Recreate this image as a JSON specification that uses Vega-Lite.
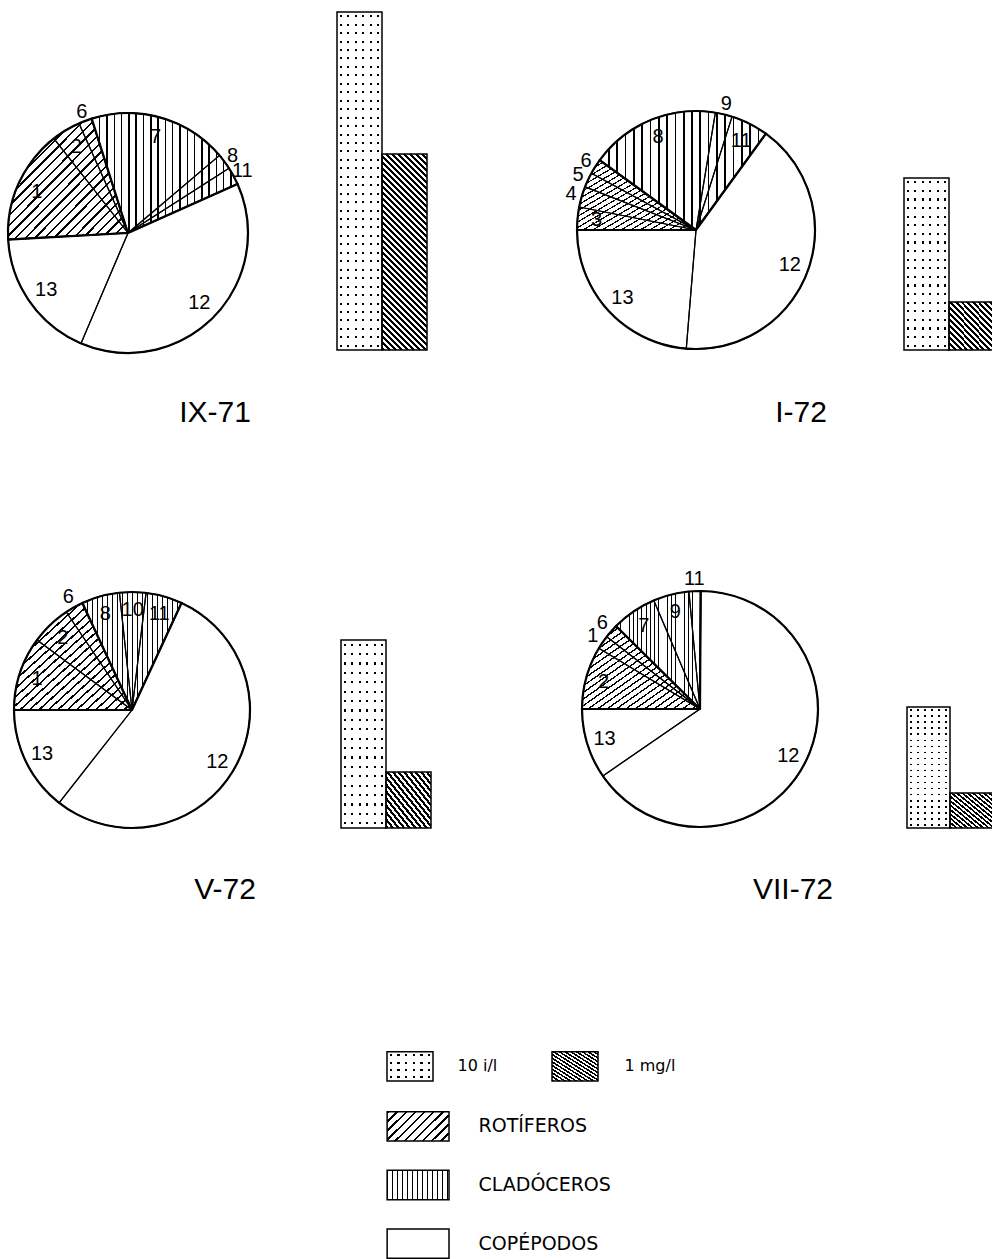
{
"$schema": "https://vega.github.io/schema/vega-lite/v6.json",
"background": "white",
"padding": 0,
"config": {"view": {"stroke": null}, "font": "Liberation Sans", "title": {"font": "Liberation Sans", "fontSize": 30, "fontWeight": "normal", "color": "black"}},
"params": [
{"name": "rotG", "value": {"gradient": "linear", "x1": 0, "y1": 0, "x2": 1, "y2": 1, "stops": [
{"offset":0,"color":"#000"},{"offset":0.01,"color":"#000"},{"offset":0.01,"color":"#fff"},{"offset":0.04,"color":"#fff"},
{"offset":0.04,"color":"#000"},{"offset":0.05,"color":"#000"},{"offset":0.05,"color":"#fff"},{"offset":0.08,"color":"#fff"},
{"offset":0.08,"color":"#000"},{"offset":0.09,"color":"#000"},{"offset":0.09,"color":"#fff"},{"offset":0.12,"color":"#fff"},
{"offset":0.12,"color":"#000"},{"offset":0.13,"color":"#000"},{"offset":0.13,"color":"#fff"},{"offset":0.16,"color":"#fff"},
{"offset":0.16,"color":"#000"},{"offset":0.17,"color":"#000"},{"offset":0.17,"color":"#fff"},{"offset":0.2,"color":"#fff"},
{"offset":0.2,"color":"#000"},{"offset":0.21,"color":"#000"},{"offset":0.21,"color":"#fff"},{"offset":0.24,"color":"#fff"},
{"offset":0.24,"color":"#000"},{"offset":0.25,"color":"#000"},{"offset":0.25,"color":"#fff"},{"offset":0.28,"color":"#fff"},
{"offset":0.28,"color":"#000"},{"offset":0.29,"color":"#000"},{"offset":0.29,"color":"#fff"},{"offset":0.32,"color":"#fff"},
{"offset":0.32,"color":"#000"},{"offset":0.33,"color":"#000"},{"offset":0.33,"color":"#fff"},{"offset":0.36,"color":"#fff"},
{"offset":0.36,"color":"#000"},{"offset":0.37,"color":"#000"},{"offset":0.37,"color":"#fff"},{"offset":0.4,"color":"#fff"},
{"offset":0.4,"color":"#000"},{"offset":0.41,"color":"#000"},{"offset":0.41,"color":"#fff"},{"offset":0.44,"color":"#fff"},
{"offset":0.44,"color":"#000"},{"offset":0.45,"color":"#000"},{"offset":0.45,"color":"#fff"},{"offset":0.48,"color":"#fff"},
{"offset":0.48,"color":"#000"},{"offset":0.49,"color":"#000"},{"offset":0.49,"color":"#fff"},{"offset":0.52,"color":"#fff"},
{"offset":0.52,"color":"#000"},{"offset":0.53,"color":"#000"},{"offset":0.53,"color":"#fff"},{"offset":0.56,"color":"#fff"},
{"offset":0.56,"color":"#000"},{"offset":0.57,"color":"#000"},{"offset":0.57,"color":"#fff"},{"offset":0.6,"color":"#fff"},
{"offset":0.6,"color":"#000"},{"offset":0.61,"color":"#000"},{"offset":0.61,"color":"#fff"},{"offset":0.64,"color":"#fff"},
{"offset":0.64,"color":"#000"},{"offset":0.65,"color":"#000"},{"offset":0.65,"color":"#fff"},{"offset":0.68,"color":"#fff"},
{"offset":0.68,"color":"#000"},{"offset":0.69,"color":"#000"},{"offset":0.69,"color":"#fff"},{"offset":0.72,"color":"#fff"},
{"offset":0.72,"color":"#000"},{"offset":0.73,"color":"#000"},{"offset":0.73,"color":"#fff"},{"offset":0.76,"color":"#fff"},
{"offset":0.76,"color":"#000"},{"offset":0.77,"color":"#000"},{"offset":0.77,"color":"#fff"},{"offset":0.8,"color":"#fff"},
{"offset":0.8,"color":"#000"},{"offset":0.81,"color":"#000"},{"offset":0.81,"color":"#fff"},{"offset":0.84,"color":"#fff"},
{"offset":0.84,"color":"#000"},{"offset":0.85,"color":"#000"},{"offset":0.85,"color":"#fff"},{"offset":0.88,"color":"#fff"},
{"offset":0.88,"color":"#000"},{"offset":0.89,"color":"#000"},{"offset":0.89,"color":"#fff"},{"offset":0.92,"color":"#fff"},
{"offset":0.92,"color":"#000"},{"offset":0.93,"color":"#000"},{"offset":0.93,"color":"#fff"},{"offset":0.96,"color":"#fff"},
{"offset":0.96,"color":"#000"},{"offset":0.97,"color":"#000"},{"offset":0.97,"color":"#fff"},{"offset":1,"color":"#fff"}]}},
{"name": "cladG", "value": {"gradient": "linear", "x1": 0, "y1": 0, "x2": 1, "y2": 0, "stops": [
{"offset":0,"color":"#000"},{"offset":0.01,"color":"#000"},{"offset":0.01,"color":"#fff"},{"offset":0.05,"color":"#fff"},
{"offset":0.05,"color":"#000"},{"offset":0.06,"color":"#000"},{"offset":0.06,"color":"#fff"},{"offset":0.1,"color":"#fff"},
{"offset":0.1,"color":"#000"},{"offset":0.11,"color":"#000"},{"offset":0.11,"color":"#fff"},{"offset":0.15,"color":"#fff"},
{"offset":0.15,"color":"#000"},{"offset":0.16,"color":"#000"},{"offset":0.16,"color":"#fff"},{"offset":0.2,"color":"#fff"},
{"offset":0.2,"color":"#000"},{"offset":0.21,"color":"#000"},{"offset":0.21,"color":"#fff"},{"offset":0.25,"color":"#fff"},
{"offset":0.25,"color":"#000"},{"offset":0.26,"color":"#000"},{"offset":0.26,"color":"#fff"},{"offset":0.3,"color":"#fff"},
{"offset":0.3,"color":"#000"},{"offset":0.31,"color":"#000"},{"offset":0.31,"color":"#fff"},{"offset":0.35,"color":"#fff"},
{"offset":0.35,"color":"#000"},{"offset":0.36,"color":"#000"},{"offset":0.36,"color":"#fff"},{"offset":0.4,"color":"#fff"},
{"offset":0.4,"color":"#000"},{"offset":0.41,"color":"#000"},{"offset":0.41,"color":"#fff"},{"offset":0.45,"color":"#fff"},
{"offset":0.45,"color":"#000"},{"offset":0.46,"color":"#000"},{"offset":0.46,"color":"#fff"},{"offset":0.5,"color":"#fff"},
{"offset":0.5,"color":"#000"},{"offset":0.51,"color":"#000"},{"offset":0.51,"color":"#fff"},{"offset":0.55,"color":"#fff"},
{"offset":0.55,"color":"#000"},{"offset":0.56,"color":"#000"},{"offset":0.56,"color":"#fff"},{"offset":0.6,"color":"#fff"},
{"offset":0.6,"color":"#000"},{"offset":0.61,"color":"#000"},{"offset":0.61,"color":"#fff"},{"offset":0.65,"color":"#fff"},
{"offset":0.65,"color":"#000"},{"offset":0.66,"color":"#000"},{"offset":0.66,"color":"#fff"},{"offset":0.7,"color":"#fff"},
{"offset":0.7,"color":"#000"},{"offset":0.71,"color":"#000"},{"offset":0.71,"color":"#fff"},{"offset":0.75,"color":"#fff"},
{"offset":0.75,"color":"#000"},{"offset":0.76,"color":"#000"},{"offset":0.76,"color":"#fff"},{"offset":0.8,"color":"#fff"},
{"offset":0.8,"color":"#000"},{"offset":0.81,"color":"#000"},{"offset":0.81,"color":"#fff"},{"offset":0.85,"color":"#fff"},
{"offset":0.85,"color":"#000"},{"offset":0.86,"color":"#000"},{"offset":0.86,"color":"#fff"},{"offset":0.9,"color":"#fff"},
{"offset":0.9,"color":"#000"},{"offset":0.91,"color":"#000"},{"offset":0.91,"color":"#fff"},{"offset":0.95,"color":"#fff"},
{"offset":0.95,"color":"#000"},{"offset":0.96,"color":"#000"},{"offset":0.96,"color":"#fff"},{"offset":1,"color":"#fff"}]}},
{"name": "hatchTallG", "value": {"gradient": "linear", "x1": 0, "y1": 1, "x2": 0.2686, "y2": -0.168, "stops": [
{"offset":0,"color":"#000"},{"offset":0.0125,"color":"#000"},{"offset":0.0125,"color":"#fff"},{"offset":0.025,"color":"#fff"},
{"offset":0.025,"color":"#000"},{"offset":0.0375,"color":"#000"},{"offset":0.0375,"color":"#fff"},{"offset":0.05,"color":"#fff"},
{"offset":0.05,"color":"#000"},{"offset":0.0625,"color":"#000"},{"offset":0.0625,"color":"#fff"},{"offset":0.075,"color":"#fff"},
{"offset":0.075,"color":"#000"},{"offset":0.0875,"color":"#000"},{"offset":0.0875,"color":"#fff"},{"offset":0.1,"color":"#fff"},
{"offset":0.1,"color":"#000"},{"offset":0.1125,"color":"#000"},{"offset":0.1125,"color":"#fff"},{"offset":0.125,"color":"#fff"},
{"offset":0.125,"color":"#000"},{"offset":0.1375,"color":"#000"},{"offset":0.1375,"color":"#fff"},{"offset":0.15,"color":"#fff"},
{"offset":0.15,"color":"#000"},{"offset":0.1625,"color":"#000"},{"offset":0.1625,"color":"#fff"},{"offset":0.175,"color":"#fff"},
{"offset":0.175,"color":"#000"},{"offset":0.1875,"color":"#000"},{"offset":0.1875,"color":"#fff"},{"offset":0.2,"color":"#fff"},
{"offset":0.2,"color":"#000"},{"offset":0.2125,"color":"#000"},{"offset":0.2125,"color":"#fff"},{"offset":0.225,"color":"#fff"},
{"offset":0.225,"color":"#000"},{"offset":0.2375,"color":"#000"},{"offset":0.2375,"color":"#fff"},{"offset":0.25,"color":"#fff"},
{"offset":0.25,"color":"#000"},{"offset":0.2625,"color":"#000"},{"offset":0.2625,"color":"#fff"},{"offset":0.275,"color":"#fff"},
{"offset":0.275,"color":"#000"},{"offset":0.2875,"color":"#000"},{"offset":0.2875,"color":"#fff"},{"offset":0.3,"color":"#fff"},
{"offset":0.3,"color":"#000"},{"offset":0.3125,"color":"#000"},{"offset":0.3125,"color":"#fff"},{"offset":0.325,"color":"#fff"},
{"offset":0.325,"color":"#000"},{"offset":0.3375,"color":"#000"},{"offset":0.3375,"color":"#fff"},{"offset":0.35,"color":"#fff"},
{"offset":0.35,"color":"#000"},{"offset":0.3625,"color":"#000"},{"offset":0.3625,"color":"#fff"},{"offset":0.375,"color":"#fff"},
{"offset":0.375,"color":"#000"},{"offset":0.3875,"color":"#000"},{"offset":0.3875,"color":"#fff"},{"offset":0.4,"color":"#fff"},
{"offset":0.4,"color":"#000"},{"offset":0.4125,"color":"#000"},{"offset":0.4125,"color":"#fff"},{"offset":0.425,"color":"#fff"},
{"offset":0.425,"color":"#000"},{"offset":0.4375,"color":"#000"},{"offset":0.4375,"color":"#fff"},{"offset":0.45,"color":"#fff"},
{"offset":0.45,"color":"#000"},{"offset":0.4625,"color":"#000"},{"offset":0.4625,"color":"#fff"},{"offset":0.475,"color":"#fff"},
{"offset":0.475,"color":"#000"},{"offset":0.4875,"color":"#000"},{"offset":0.4875,"color":"#fff"},{"offset":0.5,"color":"#fff"},
{"offset":0.5,"color":"#000"},{"offset":0.5125,"color":"#000"},{"offset":0.5125,"color":"#fff"},{"offset":0.525,"color":"#fff"},
{"offset":0.525,"color":"#000"},{"offset":0.5375,"color":"#000"},{"offset":0.5375,"color":"#fff"},{"offset":0.55,"color":"#fff"},
{"offset":0.55,"color":"#000"},{"offset":0.5625,"color":"#000"},{"offset":0.5625,"color":"#fff"},{"offset":0.575,"color":"#fff"},
{"offset":0.575,"color":"#000"},{"offset":0.5875,"color":"#000"},{"offset":0.5875,"color":"#fff"},{"offset":0.6,"color":"#fff"},
{"offset":0.6,"color":"#000"},{"offset":0.6125,"color":"#000"},{"offset":0.6125,"color":"#fff"},{"offset":0.625,"color":"#fff"},
{"offset":0.625,"color":"#000"},{"offset":0.6375,"color":"#000"},{"offset":0.6375,"color":"#fff"},{"offset":0.65,"color":"#fff"},
{"offset":0.65,"color":"#000"},{"offset":0.6625,"color":"#000"},{"offset":0.6625,"color":"#fff"},{"offset":0.675,"color":"#fff"},
{"offset":0.675,"color":"#000"},{"offset":0.6875,"color":"#000"},{"offset":0.6875,"color":"#fff"},{"offset":0.7,"color":"#fff"},
{"offset":0.7,"color":"#000"},{"offset":0.7125,"color":"#000"},{"offset":0.7125,"color":"#fff"},{"offset":0.725,"color":"#fff"},
{"offset":0.725,"color":"#000"},{"offset":0.7375,"color":"#000"},{"offset":0.7375,"color":"#fff"},{"offset":0.75,"color":"#fff"},
{"offset":0.75,"color":"#000"},{"offset":0.7625,"color":"#000"},{"offset":0.7625,"color":"#fff"},{"offset":0.775,"color":"#fff"},
{"offset":0.775,"color":"#000"},{"offset":0.7875,"color":"#000"},{"offset":0.7875,"color":"#fff"},{"offset":0.8,"color":"#fff"},
{"offset":0.8,"color":"#000"},{"offset":0.8125,"color":"#000"},{"offset":0.8125,"color":"#fff"},{"offset":0.825,"color":"#fff"},
{"offset":0.825,"color":"#000"},{"offset":0.8375,"color":"#000"},{"offset":0.8375,"color":"#fff"},{"offset":0.85,"color":"#fff"},
{"offset":0.85,"color":"#000"},{"offset":0.8625,"color":"#000"},{"offset":0.8625,"color":"#fff"},{"offset":0.875,"color":"#fff"},
{"offset":0.875,"color":"#000"},{"offset":0.8875,"color":"#000"},{"offset":0.8875,"color":"#fff"},{"offset":0.9,"color":"#fff"},
{"offset":0.9,"color":"#000"},{"offset":0.9125,"color":"#000"},{"offset":0.9125,"color":"#fff"},{"offset":0.925,"color":"#fff"},
{"offset":0.925,"color":"#000"},{"offset":0.9375,"color":"#000"},{"offset":0.9375,"color":"#fff"},{"offset":0.95,"color":"#fff"},
{"offset":0.95,"color":"#000"},{"offset":0.9625,"color":"#000"},{"offset":0.9625,"color":"#fff"},{"offset":0.975,"color":"#fff"},
{"offset":0.975,"color":"#000"},{"offset":0.9875,"color":"#000"},{"offset":0.9875,"color":"#fff"},{"offset":1,"color":"#fff"}]}},
{"name": "hatchShortG", "value": {"gradient": "linear", "x1": 0, "y1": 1, "x2": 1, "y2": 0, "stops": [
{"offset":0,"color":"#000"},{"offset":0.03125,"color":"#000"},{"offset":0.03125,"color":"#fff"},{"offset":0.0625,"color":"#fff"},
{"offset":0.0625,"color":"#000"},{"offset":0.09375,"color":"#000"},{"offset":0.09375,"color":"#fff"},{"offset":0.125,"color":"#fff"},
{"offset":0.125,"color":"#000"},{"offset":0.15625,"color":"#000"},{"offset":0.15625,"color":"#fff"},{"offset":0.1875,"color":"#fff"},
{"offset":0.1875,"color":"#000"},{"offset":0.21875,"color":"#000"},{"offset":0.21875,"color":"#fff"},{"offset":0.25,"color":"#fff"},
{"offset":0.25,"color":"#000"},{"offset":0.28125,"color":"#000"},{"offset":0.28125,"color":"#fff"},{"offset":0.3125,"color":"#fff"},
{"offset":0.3125,"color":"#000"},{"offset":0.34375,"color":"#000"},{"offset":0.34375,"color":"#fff"},{"offset":0.375,"color":"#fff"},
{"offset":0.375,"color":"#000"},{"offset":0.40625,"color":"#000"},{"offset":0.40625,"color":"#fff"},{"offset":0.4375,"color":"#fff"},
{"offset":0.4375,"color":"#000"},{"offset":0.46875,"color":"#000"},{"offset":0.46875,"color":"#fff"},{"offset":0.5,"color":"#fff"},
{"offset":0.5,"color":"#000"},{"offset":0.53125,"color":"#000"},{"offset":0.53125,"color":"#fff"},{"offset":0.5625,"color":"#fff"},
{"offset":0.5625,"color":"#000"},{"offset":0.59375,"color":"#000"},{"offset":0.59375,"color":"#fff"},{"offset":0.625,"color":"#fff"},
{"offset":0.625,"color":"#000"},{"offset":0.65625,"color":"#000"},{"offset":0.65625,"color":"#fff"},{"offset":0.6875,"color":"#fff"},
{"offset":0.6875,"color":"#000"},{"offset":0.71875,"color":"#000"},{"offset":0.71875,"color":"#fff"},{"offset":0.75,"color":"#fff"},
{"offset":0.75,"color":"#000"},{"offset":0.78125,"color":"#000"},{"offset":0.78125,"color":"#fff"},{"offset":0.8125,"color":"#fff"},
{"offset":0.8125,"color":"#000"},{"offset":0.84375,"color":"#000"},{"offset":0.84375,"color":"#fff"},{"offset":0.875,"color":"#fff"},
{"offset":0.875,"color":"#000"},{"offset":0.90625,"color":"#000"},{"offset":0.90625,"color":"#fff"},{"offset":0.9375,"color":"#fff"},
{"offset":0.9375,"color":"#000"},{"offset":0.96875,"color":"#000"},{"offset":0.96875,"color":"#fff"},{"offset":1,"color":"#fff"}]}},
{"name": "rotLegG", "value": {"gradient": "linear", "x1": 0, "y1": 0, "x2": 1.2026, "y2": 0.582, "stops": [
{"offset":0,"color":"#000"},{"offset":0.025,"color":"#000"},{"offset":0.025,"color":"#fff"},{"offset":0.1,"color":"#fff"},
{"offset":0.1,"color":"#000"},{"offset":0.125,"color":"#000"},{"offset":0.125,"color":"#fff"},{"offset":0.2,"color":"#fff"},
{"offset":0.2,"color":"#000"},{"offset":0.225,"color":"#000"},{"offset":0.225,"color":"#fff"},{"offset":0.3,"color":"#fff"},
{"offset":0.3,"color":"#000"},{"offset":0.325,"color":"#000"},{"offset":0.325,"color":"#fff"},{"offset":0.4,"color":"#fff"},
{"offset":0.4,"color":"#000"},{"offset":0.425,"color":"#000"},{"offset":0.425,"color":"#fff"},{"offset":0.5,"color":"#fff"},
{"offset":0.5,"color":"#000"},{"offset":0.525,"color":"#000"},{"offset":0.525,"color":"#fff"},{"offset":0.6,"color":"#fff"},
{"offset":0.6,"color":"#000"},{"offset":0.625,"color":"#000"},{"offset":0.625,"color":"#fff"},{"offset":0.7,"color":"#fff"},
{"offset":0.7,"color":"#000"},{"offset":0.725,"color":"#000"},{"offset":0.725,"color":"#fff"},{"offset":0.8,"color":"#fff"},
{"offset":0.8,"color":"#000"},{"offset":0.825,"color":"#000"},{"offset":0.825,"color":"#fff"},{"offset":0.9,"color":"#fff"},
{"offset":0.9,"color":"#000"},{"offset":0.925,"color":"#000"},{"offset":0.925,"color":"#fff"},{"offset":1,"color":"#fff"}]}},
{"name": "cladLegG", "value": {"gradient": "linear", "x1": 0, "y1": 0, "x2": 1, "y2": 0, "stops": [
{"offset":0,"color":"#000"},{"offset":0.02,"color":"#000"},{"offset":0.02,"color":"#fff"},{"offset":0.08,"color":"#fff"},
{"offset":0.08,"color":"#000"},{"offset":0.1,"color":"#000"},{"offset":0.1,"color":"#fff"},{"offset":0.16,"color":"#fff"},
{"offset":0.16,"color":"#000"},{"offset":0.18,"color":"#000"},{"offset":0.18,"color":"#fff"},{"offset":0.24,"color":"#fff"},
{"offset":0.24,"color":"#000"},{"offset":0.26,"color":"#000"},{"offset":0.26,"color":"#fff"},{"offset":0.32,"color":"#fff"},
{"offset":0.32,"color":"#000"},{"offset":0.34,"color":"#000"},{"offset":0.34,"color":"#fff"},{"offset":0.4,"color":"#fff"},
{"offset":0.4,"color":"#000"},{"offset":0.42,"color":"#000"},{"offset":0.42,"color":"#fff"},{"offset":0.48,"color":"#fff"},
{"offset":0.48,"color":"#000"},{"offset":0.5,"color":"#000"},{"offset":0.5,"color":"#fff"},{"offset":0.56,"color":"#fff"},
{"offset":0.56,"color":"#000"},{"offset":0.58,"color":"#000"},{"offset":0.58,"color":"#fff"},{"offset":0.64,"color":"#fff"},
{"offset":0.64,"color":"#000"},{"offset":0.66,"color":"#000"},{"offset":0.66,"color":"#fff"},{"offset":0.72,"color":"#fff"},
{"offset":0.72,"color":"#000"},{"offset":0.74,"color":"#000"},{"offset":0.74,"color":"#fff"},{"offset":0.8,"color":"#fff"},
{"offset":0.8,"color":"#000"},{"offset":0.82,"color":"#000"},{"offset":0.82,"color":"#fff"},{"offset":0.88,"color":"#fff"},
{"offset":0.88,"color":"#000"},{"offset":0.9,"color":"#000"},{"offset":0.9,"color":"#fff"},{"offset":0.96,"color":"#fff"},
{"offset":0.96,"color":"#000"},{"offset":0.98,"color":"#000"},{"offset":0.98,"color":"#fff"},{"offset":1,"color":"#fff"}]}},
{"name": "dotColG", "value": {"gradient": "linear", "x1": 0, "y1": 0, "x2": 1, "y2": 0, "stops": [
{"offset":0,"color":"#fff"},{"offset":0.0613,"color":"#fff"},{"offset":0.0613,"color":"rgba(255,255,255,0)"},{"offset":0.1053,"color":"rgba(255,255,255,0)"},
{"offset":0.1053,"color":"#fff"},{"offset":0.228,"color":"#fff"},{"offset":0.228,"color":"rgba(255,255,255,0)"},{"offset":0.272,"color":"rgba(255,255,255,0)"},
{"offset":0.272,"color":"#fff"},{"offset":0.3947,"color":"#fff"},{"offset":0.3947,"color":"rgba(255,255,255,0)"},{"offset":0.4387,"color":"rgba(255,255,255,0)"},
{"offset":0.4387,"color":"#fff"},{"offset":0.5613,"color":"#fff"},{"offset":0.5613,"color":"rgba(255,255,255,0)"},{"offset":0.6053,"color":"rgba(255,255,255,0)"},
{"offset":0.6053,"color":"#fff"},{"offset":0.728,"color":"#fff"},{"offset":0.728,"color":"rgba(255,255,255,0)"},{"offset":0.772,"color":"rgba(255,255,255,0)"},
{"offset":0.772,"color":"#fff"},{"offset":0.8947,"color":"#fff"},{"offset":0.8947,"color":"rgba(255,255,255,0)"},{"offset":0.9387,"color":"rgba(255,255,255,0)"},
{"offset":0.9387,"color":"#fff"},{"offset":1,"color":"#fff"}]}},
{"name": "dotRowTallG", "value": {"gradient": "linear", "x1": 0, "y1": 0, "x2": 0, "y2": 1, "stops": [
{"offset":0,"color":"#fff"},
{"offset":0.0095,"color":"#fff"},{"offset":0.0095,"color":"rgba(255,255,255,0)"},{"offset":0.0155,"color":"rgba(255,255,255,0)"},{"offset":0.0155,"color":"#fff"},
{"offset":0.0345,"color":"#fff"},{"offset":0.0345,"color":"rgba(255,255,255,0)"},{"offset":0.0405,"color":"rgba(255,255,255,0)"},{"offset":0.0405,"color":"#fff"},
{"offset":0.0595,"color":"#fff"},{"offset":0.0595,"color":"rgba(255,255,255,0)"},{"offset":0.0655,"color":"rgba(255,255,255,0)"},{"offset":0.0655,"color":"#fff"},
{"offset":0.0845,"color":"#fff"},{"offset":0.0845,"color":"rgba(255,255,255,0)"},{"offset":0.0905,"color":"rgba(255,255,255,0)"},{"offset":0.0905,"color":"#fff"},
{"offset":0.1095,"color":"#fff"},{"offset":0.1095,"color":"rgba(255,255,255,0)"},{"offset":0.1155,"color":"rgba(255,255,255,0)"},{"offset":0.1155,"color":"#fff"},
{"offset":0.1345,"color":"#fff"},{"offset":0.1345,"color":"rgba(255,255,255,0)"},{"offset":0.1405,"color":"rgba(255,255,255,0)"},{"offset":0.1405,"color":"#fff"},
{"offset":0.1595,"color":"#fff"},{"offset":0.1595,"color":"rgba(255,255,255,0)"},{"offset":0.1655,"color":"rgba(255,255,255,0)"},{"offset":0.1655,"color":"#fff"},
{"offset":0.1845,"color":"#fff"},{"offset":0.1845,"color":"rgba(255,255,255,0)"},{"offset":0.1905,"color":"rgba(255,255,255,0)"},{"offset":0.1905,"color":"#fff"},
{"offset":0.2095,"color":"#fff"},{"offset":0.2095,"color":"rgba(255,255,255,0)"},{"offset":0.2155,"color":"rgba(255,255,255,0)"},{"offset":0.2155,"color":"#fff"},
{"offset":0.2345,"color":"#fff"},{"offset":0.2345,"color":"rgba(255,255,255,0)"},{"offset":0.2405,"color":"rgba(255,255,255,0)"},{"offset":0.2405,"color":"#fff"},
{"offset":0.2595,"color":"#fff"},{"offset":0.2595,"color":"rgba(255,255,255,0)"},{"offset":0.2655,"color":"rgba(255,255,255,0)"},{"offset":0.2655,"color":"#fff"},
{"offset":0.2845,"color":"#fff"},{"offset":0.2845,"color":"rgba(255,255,255,0)"},{"offset":0.2905,"color":"rgba(255,255,255,0)"},{"offset":0.2905,"color":"#fff"},
{"offset":0.3095,"color":"#fff"},{"offset":0.3095,"color":"rgba(255,255,255,0)"},{"offset":0.3155,"color":"rgba(255,255,255,0)"},{"offset":0.3155,"color":"#fff"},
{"offset":0.3345,"color":"#fff"},{"offset":0.3345,"color":"rgba(255,255,255,0)"},{"offset":0.3405,"color":"rgba(255,255,255,0)"},{"offset":0.3405,"color":"#fff"},
{"offset":0.3595,"color":"#fff"},{"offset":0.3595,"color":"rgba(255,255,255,0)"},{"offset":0.3655,"color":"rgba(255,255,255,0)"},{"offset":0.3655,"color":"#fff"},
{"offset":0.3845,"color":"#fff"},{"offset":0.3845,"color":"rgba(255,255,255,0)"},{"offset":0.3905,"color":"rgba(255,255,255,0)"},{"offset":0.3905,"color":"#fff"},
{"offset":0.4095,"color":"#fff"},{"offset":0.4095,"color":"rgba(255,255,255,0)"},{"offset":0.4155,"color":"rgba(255,255,255,0)"},{"offset":0.4155,"color":"#fff"},
{"offset":0.4345,"color":"#fff"},{"offset":0.4345,"color":"rgba(255,255,255,0)"},{"offset":0.4405,"color":"rgba(255,255,255,0)"},{"offset":0.4405,"color":"#fff"},
{"offset":0.4595,"color":"#fff"},{"offset":0.4595,"color":"rgba(255,255,255,0)"},{"offset":0.4655,"color":"rgba(255,255,255,0)"},{"offset":0.4655,"color":"#fff"},
{"offset":0.4845,"color":"#fff"},{"offset":0.4845,"color":"rgba(255,255,255,0)"},{"offset":0.4905,"color":"rgba(255,255,255,0)"},{"offset":0.4905,"color":"#fff"},
{"offset":0.5095,"color":"#fff"},{"offset":0.5095,"color":"rgba(255,255,255,0)"},{"offset":0.5155,"color":"rgba(255,255,255,0)"},{"offset":0.5155,"color":"#fff"},
{"offset":0.5345,"color":"#fff"},{"offset":0.5345,"color":"rgba(255,255,255,0)"},{"offset":0.5405,"color":"rgba(255,255,255,0)"},{"offset":0.5405,"color":"#fff"},
{"offset":0.5595,"color":"#fff"},{"offset":0.5595,"color":"rgba(255,255,255,0)"},{"offset":0.5655,"color":"rgba(255,255,255,0)"},{"offset":0.5655,"color":"#fff"},
{"offset":0.5845,"color":"#fff"},{"offset":0.5845,"color":"rgba(255,255,255,0)"},{"offset":0.5905,"color":"rgba(255,255,255,0)"},{"offset":0.5905,"color":"#fff"},
{"offset":0.6095,"color":"#fff"},{"offset":0.6095,"color":"rgba(255,255,255,0)"},{"offset":0.6155,"color":"rgba(255,255,255,0)"},{"offset":0.6155,"color":"#fff"},
{"offset":0.6345,"color":"#fff"},{"offset":0.6345,"color":"rgba(255,255,255,0)"},{"offset":0.6405,"color":"rgba(255,255,255,0)"},{"offset":0.6405,"color":"#fff"},
{"offset":0.6595,"color":"#fff"},{"offset":0.6595,"color":"rgba(255,255,255,0)"},{"offset":0.6655,"color":"rgba(255,255,255,0)"},{"offset":0.6655,"color":"#fff"},
{"offset":0.6845,"color":"#fff"},{"offset":0.6845,"color":"rgba(255,255,255,0)"},{"offset":0.6905,"color":"rgba(255,255,255,0)"},{"offset":0.6905,"color":"#fff"},
{"offset":0.7095,"color":"#fff"},{"offset":0.7095,"color":"rgba(255,255,255,0)"},{"offset":0.7155,"color":"rgba(255,255,255,0)"},{"offset":0.7155,"color":"#fff"},
{"offset":0.7345,"color":"#fff"},{"offset":0.7345,"color":"rgba(255,255,255,0)"},{"offset":0.7405,"color":"rgba(255,255,255,0)"},{"offset":0.7405,"color":"#fff"},
{"offset":0.7595,"color":"#fff"},{"offset":0.7595,"color":"rgba(255,255,255,0)"},{"offset":0.7655,"color":"rgba(255,255,255,0)"},{"offset":0.7655,"color":"#fff"},
{"offset":0.7845,"color":"#fff"},{"offset":0.7845,"color":"rgba(255,255,255,0)"},{"offset":0.7905,"color":"rgba(255,255,255,0)"},{"offset":0.7905,"color":"#fff"},
{"offset":0.8095,"color":"#fff"},{"offset":0.8095,"color":"rgba(255,255,255,0)"},{"offset":0.8155,"color":"rgba(255,255,255,0)"},{"offset":0.8155,"color":"#fff"},
{"offset":0.8345,"color":"#fff"},{"offset":0.8345,"color":"rgba(255,255,255,0)"},{"offset":0.8405,"color":"rgba(255,255,255,0)"},{"offset":0.8405,"color":"#fff"},
{"offset":0.8595,"color":"#fff"},{"offset":0.8595,"color":"rgba(255,255,255,0)"},{"offset":0.8655,"color":"rgba(255,255,255,0)"},{"offset":0.8655,"color":"#fff"},
{"offset":0.8845,"color":"#fff"},{"offset":0.8845,"color":"rgba(255,255,255,0)"},{"offset":0.8905,"color":"rgba(255,255,255,0)"},{"offset":0.8905,"color":"#fff"},
{"offset":0.9095,"color":"#fff"},{"offset":0.9095,"color":"rgba(255,255,255,0)"},{"offset":0.9155,"color":"rgba(255,255,255,0)"},{"offset":0.9155,"color":"#fff"},
{"offset":0.9345,"color":"#fff"},{"offset":0.9345,"color":"rgba(255,255,255,0)"},{"offset":0.9405,"color":"rgba(255,255,255,0)"},{"offset":0.9405,"color":"#fff"},
{"offset":0.9595,"color":"#fff"},{"offset":0.9595,"color":"rgba(255,255,255,0)"},{"offset":0.9655,"color":"rgba(255,255,255,0)"},{"offset":0.9655,"color":"#fff"},
{"offset":0.9845,"color":"#fff"},{"offset":0.9845,"color":"rgba(255,255,255,0)"},{"offset":0.9905,"color":"rgba(255,255,255,0)"},{"offset":0.9905,"color":"#fff"},
{"offset":1,"color":"#fff"}]}},
{"name": "dotRowShortG", "value": {"gradient": "linear", "x1": 0, "y1": 0, "x2": 0, "y2": 1, "stops": [
{"offset":0,"color":"#fff"},
{"offset":0.019,"color":"#fff"},{"offset":0.019,"color":"rgba(255,255,255,0)"},{"offset":0.031,"color":"rgba(255,255,255,0)"},{"offset":0.031,"color":"#fff"},
{"offset":0.069,"color":"#fff"},{"offset":0.069,"color":"rgba(255,255,255,0)"},{"offset":0.081,"color":"rgba(255,255,255,0)"},{"offset":0.081,"color":"#fff"},
{"offset":0.119,"color":"#fff"},{"offset":0.119,"color":"rgba(255,255,255,0)"},{"offset":0.131,"color":"rgba(255,255,255,0)"},{"offset":0.131,"color":"#fff"},
{"offset":0.169,"color":"#fff"},{"offset":0.169,"color":"rgba(255,255,255,0)"},{"offset":0.181,"color":"rgba(255,255,255,0)"},{"offset":0.181,"color":"#fff"},
{"offset":0.219,"color":"#fff"},{"offset":0.219,"color":"rgba(255,255,255,0)"},{"offset":0.231,"color":"rgba(255,255,255,0)"},{"offset":0.231,"color":"#fff"},
{"offset":0.269,"color":"#fff"},{"offset":0.269,"color":"rgba(255,255,255,0)"},{"offset":0.281,"color":"rgba(255,255,255,0)"},{"offset":0.281,"color":"#fff"},
{"offset":0.319,"color":"#fff"},{"offset":0.319,"color":"rgba(255,255,255,0)"},{"offset":0.331,"color":"rgba(255,255,255,0)"},{"offset":0.331,"color":"#fff"},
{"offset":0.369,"color":"#fff"},{"offset":0.369,"color":"rgba(255,255,255,0)"},{"offset":0.381,"color":"rgba(255,255,255,0)"},{"offset":0.381,"color":"#fff"},
{"offset":0.419,"color":"#fff"},{"offset":0.419,"color":"rgba(255,255,255,0)"},{"offset":0.431,"color":"rgba(255,255,255,0)"},{"offset":0.431,"color":"#fff"},
{"offset":0.469,"color":"#fff"},{"offset":0.469,"color":"rgba(255,255,255,0)"},{"offset":0.481,"color":"rgba(255,255,255,0)"},{"offset":0.481,"color":"#fff"},
{"offset":0.519,"color":"#fff"},{"offset":0.519,"color":"rgba(255,255,255,0)"},{"offset":0.531,"color":"rgba(255,255,255,0)"},{"offset":0.531,"color":"#fff"},
{"offset":0.569,"color":"#fff"},{"offset":0.569,"color":"rgba(255,255,255,0)"},{"offset":0.581,"color":"rgba(255,255,255,0)"},{"offset":0.581,"color":"#fff"},
{"offset":0.619,"color":"#fff"},{"offset":0.619,"color":"rgba(255,255,255,0)"},{"offset":0.631,"color":"rgba(255,255,255,0)"},{"offset":0.631,"color":"#fff"},
{"offset":0.669,"color":"#fff"},{"offset":0.669,"color":"rgba(255,255,255,0)"},{"offset":0.681,"color":"rgba(255,255,255,0)"},{"offset":0.681,"color":"#fff"},
{"offset":0.719,"color":"#fff"},{"offset":0.719,"color":"rgba(255,255,255,0)"},{"offset":0.731,"color":"rgba(255,255,255,0)"},{"offset":0.731,"color":"#fff"},
{"offset":0.769,"color":"#fff"},{"offset":0.769,"color":"rgba(255,255,255,0)"},{"offset":0.781,"color":"rgba(255,255,255,0)"},{"offset":0.781,"color":"#fff"},
{"offset":0.819,"color":"#fff"},{"offset":0.819,"color":"rgba(255,255,255,0)"},{"offset":0.831,"color":"rgba(255,255,255,0)"},{"offset":0.831,"color":"#fff"},
{"offset":0.869,"color":"#fff"},{"offset":0.869,"color":"rgba(255,255,255,0)"},{"offset":0.881,"color":"rgba(255,255,255,0)"},{"offset":0.881,"color":"#fff"},
{"offset":0.919,"color":"#fff"},{"offset":0.919,"color":"rgba(255,255,255,0)"},{"offset":0.931,"color":"rgba(255,255,255,0)"},{"offset":0.931,"color":"#fff"},
{"offset":0.969,"color":"#fff"},{"offset":0.969,"color":"rgba(255,255,255,0)"},{"offset":0.981,"color":"rgba(255,255,255,0)"},{"offset":0.981,"color":"#fff"},
{"offset":1,"color":"#fff"}]}},
{"name": "dotRowLegG", "value": {"gradient": "linear", "x1": 0, "y1": 0, "x2": 0, "y2": 1, "stops": [
{"offset":0,"color":"#fff"},
{"offset":0.092,"color":"#fff"},{"offset":0.092,"color":"rgba(255,255,255,0)"},{"offset":0.158,"color":"rgba(255,255,255,0)"},{"offset":0.158,"color":"#fff"},
{"offset":0.342,"color":"#fff"},{"offset":0.342,"color":"rgba(255,255,255,0)"},{"offset":0.408,"color":"rgba(255,255,255,0)"},{"offset":0.408,"color":"#fff"},
{"offset":0.592,"color":"#fff"},{"offset":0.592,"color":"rgba(255,255,255,0)"},{"offset":0.658,"color":"rgba(255,255,255,0)"},{"offset":0.658,"color":"#fff"},
{"offset":0.842,"color":"#fff"},{"offset":0.842,"color":"rgba(255,255,255,0)"},{"offset":0.908,"color":"rgba(255,255,255,0)"},{"offset":0.908,"color":"#fff"},
{"offset":1,"color":"#fff"}]}}
],
"datasets": {
"ix71": [
{"taxon":"1","grp":"rot","gk":1,"k":1,"pct":15.3},
{"taxon":"2","grp":"rot","gk":1,"k":2,"pct":3.9},
{"taxon":"6","grp":"rot","gk":1,"k":3,"pct":1.8},
{"taxon":"7","grp":"clad","gk":2,"k":4,"pct":18.7},
{"taxon":"8","grp":"clad","gk":2,"k":5,"pct":2.1},
{"taxon":"11","grp":"clad","gk":2,"k":6,"pct":2.4},
{"taxon":"12","grp":"cop","gk":3,"k":7,"pct":38.1},
{"taxon":"13","grp":"cop","gk":3,"k":8,"pct":17.7}],
"i72": [
{"taxon":"3","grp":"rot","gk":1,"k":1,"pct":3.1},
{"taxon":"4","grp":"rot","gk":1,"k":2,"pct":2.8},
{"taxon":"5","grp":"rot","gk":1,"k":3,"pct":2.0},
{"taxon":"6","grp":"rot","gk":1,"k":4,"pct":2.1},
{"taxon":"8","grp":"clad","gk":2,"k":5,"pct":17.6},
{"taxon":"9","grp":"clad","gk":2,"k":6,"pct":2.3},
{"taxon":"11","grp":"clad","gk":2,"k":7,"pct":5.1},
{"taxon":"12","grp":"cop","gk":3,"k":8,"pct":41.3},
{"taxon":"13","grp":"cop","gk":3,"k":9,"pct":23.7}],
"v72": [
{"taxon":"1","grp":"rot","gk":1,"k":1,"pct":10.1},
{"taxon":"2","grp":"rot","gk":1,"k":2,"pct":5.5},
{"taxon":"6","grp":"rot","gk":1,"k":3,"pct":2.5},
{"taxon":"8","grp":"clad","gk":2,"k":4,"pct":5.2},
{"taxon":"10","grp":"clad","gk":2,"k":5,"pct":3.6},
{"taxon":"11","grp":"clad","gk":2,"k":6,"pct":5.0},
{"taxon":"12","grp":"cop","gk":3,"k":7,"pct":53.7},
{"taxon":"13","grp":"cop","gk":3,"k":8,"pct":14.4}],
"vii72": [
{"taxon":"2","grp":"rot","gk":1,"k":1,"pct":8.6},
{"taxon":"1","grp":"rot","gk":1,"k":2,"pct":1.9},
{"taxon":"6","grp":"rot","gk":1,"k":3,"pct":1.9},
{"taxon":"7","grp":"clad","gk":2,"k":4,"pct":6.2},
{"taxon":"9","grp":"clad","gk":2,"k":5,"pct":4.9},
{"taxon":"11","grp":"clad","gk":2,"k":6,"pct":1.6},
{"taxon":"12","grp":"cop","gk":3,"k":7,"pct":65.3},
{"taxon":"13","grp":"cop","gk":3,"k":8,"pct":9.6}],
"bars": [
{"date":"IX-71","kind":"dot","v":33.8},{"date":"IX-71","kind":"hatch","v":19.6},
{"date":"I-72","kind":"dot","v":17.2},{"date":"I-72","kind":"hatch","v":4.8},
{"date":"V-72","kind":"dot","v":18.8},{"date":"V-72","kind":"hatch","v":5.6},
{"date":"VII-72","kind":"dot","v":12.1},{"date":"VII-72","kind":"hatch","v":3.5}]
},
"vconcat": [
{"vconcat": [
 {"hconcat": [
  {"hconcat": [
   {"width": 256, "height": 466, "data": {"name": "ix71"},
    "title": {"text": "IX-71", "orient": "bottom", "frame": "group", "anchor": "middle", "offset": -44.5, "dx": 87, "baseline": "alphabetic"},
    "encoding": {"theta": {"field": "pct", "type": "quantitative", "stack": true, "scale": {"domain": [0, 100], "range": [4.6565, 10.9397]}}},
    "layer": [
     {"transform": [{"aggregate": [{"op": "sum", "field": "pct", "as": "pct"}], "groupby": ["grp", "gk"]}],
      "mark": {"type": "arc", "outerRadius": 120, "stroke": "black", "strokeWidth": 2.2, "strokeJoin": "round"},
      "encoding": {"order": {"field": "gk", "type": "quantitative"}, "fill": {"value": {"expr": "datum.grp === 'rot' ? rotG : datum.grp === 'clad' ? cladG : 'white'"}}}},
     {"mark": {"type": "arc", "outerRadius": 120, "fill": "white", "fillOpacity": 0, "stroke": "black", "strokeWidth": 1.2, "strokeJoin": "round"},
      "encoding": {"order": {"field": "k", "type": "quantitative"}}},
     {"mark": {"type": "text", "font": "Liberation Sans", "fontSize": 20, "radius": {"expr": "datum.pct < 3 ? 130 : 100"}},
      "encoding": {"order": {"field": "k", "type": "quantitative"}, "text": {"field": "taxon"}}}
    ]},
   {"width": 90, "height": 350, "data": {"name": "bars"}, "transform": [{"filter": "datum.date === 'IX-71'"}],
    "encoding": {"x": {"field": "kind", "type": "nominal", "sort": ["dot", "hatch"], "scale": {"paddingInner": 0, "paddingOuter": 0}, "axis": null},
     "y": {"field": "v", "type": "quantitative", "scale": {"domain": [0, 35]}, "axis": null}},
    "layer": [
     {"mark": {"type": "bar"}, "encoding": {"fill": {"value": {"expr": "datum.kind === 'dot' ? 'black' : datum.v > 10 ? hatchTallG : hatchShortG"}}}},
     {"transform": [{"filter": "datum.kind === 'dot'"}], "mark": {"type": "bar"}, "encoding": {"fill": {"value": {"expr": "dotColG"}}}},
     {"transform": [{"filter": "datum.kind === 'dot'"}], "mark": {"type": "bar"}, "encoding": {"fill": {"value": {"expr": "datum.v > 25 ? dotRowTallG : dotRowShortG"}}}},
     {"mark": {"type": "bar", "fill": "white", "fillOpacity": 0, "stroke": "black", "strokeWidth": 1.5}}
    ]}
  ], "spacing": 81, "bounds": "flush"},
  {"hconcat": [
   {"width": 266, "height": 460, "data": {"name": "i72"},
    "title": {"text": "I-72", "orient": "bottom", "frame": "group", "anchor": "middle", "offset": -38.5, "dx": 105, "baseline": "alphabetic"},
    "encoding": {"theta": {"field": "pct", "type": "quantitative", "stack": true, "scale": {"domain": [0, 100], "range": [4.7124, 10.9956]}}},
    "layer": [
     {"transform": [{"aggregate": [{"op": "sum", "field": "pct", "as": "pct"}], "groupby": ["grp", "gk"]}],
      "mark": {"type": "arc", "outerRadius": 119, "stroke": "black", "strokeWidth": 2.2, "strokeJoin": "round"},
      "encoding": {"order": {"field": "gk", "type": "quantitative"}, "fill": {"value": {"expr": "datum.grp === 'rot' ? rotG : datum.grp === 'clad' ? cladG : 'white'"}}}},
     {"mark": {"type": "arc", "outerRadius": 119, "fill": "white", "fillOpacity": 0, "stroke": "black", "strokeWidth": 1.2, "strokeJoin": "round"},
      "encoding": {"order": {"field": "k", "type": "quantitative"}}},
     {"mark": {"type": "text", "font": "Liberation Sans", "fontSize": 20, "radius": {"expr": "datum.pct < 3 ? 130 : 100"}},
      "encoding": {"order": {"field": "k", "type": "quantitative"}, "text": {"field": "taxon"}}}
    ]},
   {"width": 90, "height": 350, "data": {"name": "bars"}, "transform": [{"filter": "datum.date === 'I-72'"}],
    "encoding": {"x": {"field": "kind", "type": "nominal", "sort": ["dot", "hatch"], "scale": {"paddingInner": 0, "paddingOuter": 0}, "axis": null},
     "y": {"field": "v", "type": "quantitative", "scale": {"domain": [0, 35]}, "axis": null}},
    "layer": [
     {"mark": {"type": "bar"}, "encoding": {"fill": {"value": {"expr": "datum.kind === 'dot' ? 'black' : datum.v > 10 ? hatchTallG : hatchShortG"}}}},
     {"transform": [{"filter": "datum.kind === 'dot'"}], "mark": {"type": "bar"}, "encoding": {"fill": {"value": {"expr": "dotColG"}}}},
     {"transform": [{"filter": "datum.kind === 'dot'"}], "mark": {"type": "bar"}, "encoding": {"fill": {"value": {"expr": "datum.v > 25 ? dotRowTallG : dotRowShortG"}}}},
     {"mark": {"type": "bar", "fill": "white", "fillOpacity": 0, "stroke": "black", "strokeWidth": 1.5}}
    ]}
  ], "spacing": 75, "bounds": "flush"}
 ], "spacing": 135},
 {"hconcat": [
  {"hconcat": [
   {"width": 264, "height": 464, "data": {"name": "v72"},
    "title": {"text": "V-72", "orient": "bottom", "frame": "group", "anchor": "middle", "offset": -43.5, "dx": 93, "baseline": "alphabetic"},
    "encoding": {"theta": {"field": "pct", "type": "quantitative", "stack": true, "scale": {"domain": [0, 100], "range": [4.7124, 10.9956]}}},
    "layer": [
     {"transform": [{"aggregate": [{"op": "sum", "field": "pct", "as": "pct"}], "groupby": ["grp", "gk"]}],
      "mark": {"type": "arc", "outerRadius": 118, "stroke": "black", "strokeWidth": 2.2, "strokeJoin": "round"},
      "encoding": {"order": {"field": "gk", "type": "quantitative"}, "fill": {"value": {"expr": "datum.grp === 'rot' ? rotG : datum.grp === 'clad' ? cladG : 'white'"}}}},
     {"mark": {"type": "arc", "outerRadius": 118, "fill": "white", "fillOpacity": 0, "stroke": "black", "strokeWidth": 1.2, "strokeJoin": "round"},
      "encoding": {"order": {"field": "k", "type": "quantitative"}}},
     {"mark": {"type": "text", "font": "Liberation Sans", "fontSize": 20, "radius": {"expr": "datum.pct < 3 ? 130 : 100"}},
      "encoding": {"order": {"field": "k", "type": "quantitative"}, "text": {"field": "taxon"}}}
    ]},
   {"width": 90, "height": 350, "data": {"name": "bars"}, "transform": [{"filter": "datum.date === 'V-72'"}],
    "encoding": {"x": {"field": "kind", "type": "nominal", "sort": ["dot", "hatch"], "scale": {"paddingInner": 0, "paddingOuter": 0}, "axis": null},
     "y": {"field": "v", "type": "quantitative", "scale": {"domain": [0, 35]}, "axis": null}},
    "layer": [
     {"mark": {"type": "bar"}, "encoding": {"fill": {"value": {"expr": "datum.kind === 'dot' ? 'black' : datum.v > 10 ? hatchTallG : hatchShortG"}}}},
     {"transform": [{"filter": "datum.kind === 'dot'"}], "mark": {"type": "bar"}, "encoding": {"fill": {"value": {"expr": "dotColG"}}}},
     {"transform": [{"filter": "datum.kind === 'dot'"}], "mark": {"type": "bar"}, "encoding": {"fill": {"value": {"expr": "datum.v > 25 ? dotRowTallG : dotRowShortG"}}}},
     {"mark": {"type": "bar", "fill": "white", "fillOpacity": 0, "stroke": "black", "strokeWidth": 1.5}}
    ]}
  ], "spacing": 77, "bounds": "flush"},
  {"hconcat": [
   {"width": 256, "height": 462, "data": {"name": "vii72"},
    "title": {"text": "VII-72", "orient": "bottom", "frame": "group", "anchor": "middle", "offset": -41.5, "dx": 93, "baseline": "alphabetic"},
    "encoding": {"theta": {"field": "pct", "type": "quantitative", "stack": true, "scale": {"domain": [0, 100], "range": [4.7124, 10.9956]}}},
    "layer": [
     {"transform": [{"aggregate": [{"op": "sum", "field": "pct", "as": "pct"}], "groupby": ["grp", "gk"]}],
      "mark": {"type": "arc", "outerRadius": 118, "stroke": "black", "strokeWidth": 2.2, "strokeJoin": "round"},
      "encoding": {"order": {"field": "gk", "type": "quantitative"}, "fill": {"value": {"expr": "datum.grp === 'rot' ? rotG : datum.grp === 'clad' ? cladG : 'white'"}}}},
     {"mark": {"type": "arc", "outerRadius": 118, "fill": "white", "fillOpacity": 0, "stroke": "black", "strokeWidth": 1.2, "strokeJoin": "round"},
      "encoding": {"order": {"field": "k", "type": "quantitative"}}},
     {"mark": {"type": "text", "font": "Liberation Sans", "fontSize": 20, "radius": {"expr": "datum.pct < 3 ? 130 : 100"}},
      "encoding": {"order": {"field": "k", "type": "quantitative"}, "text": {"field": "taxon"}}}
    ]},
   {"width": 86, "height": 350, "data": {"name": "bars"}, "transform": [{"filter": "datum.date === 'VII-72'"}],
    "encoding": {"x": {"field": "kind", "type": "nominal", "sort": ["dot", "hatch"], "scale": {"paddingInner": 0, "paddingOuter": 0}, "axis": null},
     "y": {"field": "v", "type": "quantitative", "scale": {"domain": [0, 35]}, "axis": null}},
    "layer": [
     {"mark": {"type": "bar"}, "encoding": {"fill": {"value": {"expr": "datum.kind === 'dot' ? 'black' : datum.v > 10 ? hatchTallG : hatchShortG"}}}},
     {"transform": [{"filter": "datum.kind === 'dot'"}], "mark": {"type": "bar"}, "encoding": {"fill": {"value": {"expr": "dotColG"}}}},
     {"transform": [{"filter": "datum.kind === 'dot'"}], "mark": {"type": "bar"}, "encoding": {"fill": {"value": {"expr": "datum.v > 25 ? dotRowTallG : dotRowShortG"}}}},
     {"mark": {"type": "bar", "fill": "white", "fillOpacity": 0, "stroke": "black", "strokeWidth": 1.5}}
    ]}
  ], "spacing": 79, "bounds": "flush"}
 ], "spacing": 140}
], "spacing": 12},
{"vconcat": [
 {"hconcat": [
  {"width": 433, "height": 58.7, "data": {"values": [{"item": "10 i/l"}]},
   "encoding": {"y": {"field": "item", "type": "nominal", "scale": {"paddingInner": 0.5, "paddingOuter": 0.25},
     "axis": {"orient": "right", "title": null, "domain": false, "ticks": false, "labelPadding": 24, "labelFontSize": 16, "labelColor": "black", "labelFont": "DejaVu Sans"}},
    "x": {"aggregate": "count", "type": "quantitative", "scale": {"domain": [-8.413, 1]}, "axis": null}},
   "layer": [
    {"mark": {"type": "bar", "fill": "black"}},
    {"mark": {"type": "bar"}, "encoding": {"fill": {"value": {"expr": "dotColG"}}}},
    {"mark": {"type": "bar"}, "encoding": {"fill": {"value": {"expr": "dotRowLegG"}}}},
    {"mark": {"type": "bar", "fill": "white", "fillOpacity": 0, "stroke": "black", "strokeWidth": 1.5}}
   ]},
  {"width": 46, "height": 58.7, "data": {"values": [{"item": "1 mg/l"}]},
   "mark": {"type": "bar", "stroke": "black", "strokeWidth": 1.5},
   "encoding": {"y": {"field": "item", "type": "nominal", "scale": {"paddingInner": 0.5, "paddingOuter": 0.25},
     "axis": {"orient": "right", "title": null, "domain": false, "ticks": false, "labelPadding": 26, "labelFontSize": 16, "labelColor": "black", "labelFont": "DejaVu Sans"}},
    "x": {"aggregate": "count", "type": "quantitative", "scale": {"domain": [0, 1]}, "axis": null},
    "fill": {"value": {"expr": "hatchShortG"}}}}
 ], "spacing": 119, "bounds": "flush"},
 {"width": 449, "height": 176, "data": {"values": [{"item": "ROTÍFEROS"}, {"item": "CLADÓCEROS"}, {"item": "COPÉPODOS"}]},
  "mark": {"type": "bar", "stroke": "black", "strokeWidth": 1.5},
  "encoding": {"y": {"field": "item", "type": "nominal", "sort": ["ROTÍFEROS", "CLADÓCEROS", "COPÉPODOS"], "scale": {"paddingInner": 0.5, "paddingOuter": 0.25},
    "axis": {"orient": "right", "title": null, "domain": false, "ticks": false, "labelPadding": 29, "labelFontSize": 19, "labelColor": "black", "labelFont": "DejaVu Sans"}},
   "x": {"aggregate": "count", "type": "quantitative", "scale": {"domain": [-6.258, 1]}, "axis": null},
   "fill": {"value": {"expr": "datum.item === 'ROTÍFEROS' ? rotLegG : datum.item === 'CLADÓCEROS' ? cladLegG : 'white'"}}}}
], "spacing": 1}
],
"spacing": 95
}
